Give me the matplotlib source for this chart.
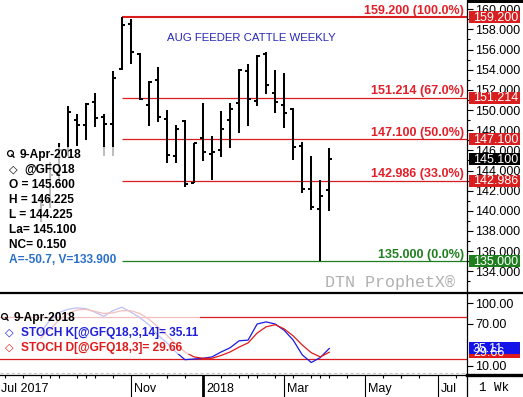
import matplotlib
matplotlib.use("Agg")
import matplotlib.pyplot as plt
import matplotlib.dates as mdates
import matplotlib.transforms as mtransforms
from matplotlib.patches import Rectangle
import pandas as pd
import numpy as np

plt.rcParams['font.family'] = ['Liberation Sans', 'DejaVu Sans']

# ---------------- data ----------------
weeks = pd.date_range("2017-08-28", periods=33, freq="7D")
opens = [140.1, 141.1, 143.6, 146.0, 149.0, 148.5, 150.8, 149.3, 148.6, 154.1, 158.5,
         155.6, 150.5, 153.0, 149.1, 145.4, 148.9, 142.8, 147.2, 145.6, 146.0, 149.0,
         150.7, 153.9, 150.9, 155.6, 151.7, 150.5, 150.1, 146.4, 142.2, 140.2, 142.1]
highs = [141.6, 144.8, 146.7, 150.4, 149.6, 150.7, 151.7, 149.6, 153.9, 159.2, 159.0,
         155.7, 152.85, 154.3, 150.0, 148.5, 149.0, 146.7, 150.7, 147.4, 149.9, 150.7,
         154.1, 154.6, 155.5, 155.8, 154.0, 153.7, 150.2, 146.8, 145.4, 143.1, 146.225]
lows = [138.9, 140.3, 142.9, 145.4, 146.4, 147.0, 148.3, 145.4, 145.4, 154.0, 154.6,
        151.0, 148.4, 148.8, 144.7, 144.7, 142.4, 142.8, 144.9, 143.1, 145.3, 146.2,
        147.7, 148.4, 150.4, 151.6, 149.7, 148.2, 145.0, 141.8, 140.1, 135.0, 140.0]
closes = [140.6, 143.6, 146.0, 149.8, 148.5, 150.6, 149.2, 148.6, 153.2, 158.4, 155.8,
          151.1, 152.8, 149.3, 145.5, 148.1, 142.7, 146.7, 145.8, 145.8, 148.1, 150.1,
          154.0, 151.1, 155.4, 152.5, 150.8, 149.7, 146.3, 142.2, 140.4, 141.5, 145.1]

stoch_k = [58, 75, 86, 91, 93, 92, 87, 81, 89, 94, 87, 79, 69, 54, 43, 30, 19, 20, 21,
           23, 30, 36, 46, 47, 70, 73, 70, 61, 47, 26, 15, 22, 35.11]
stoch_d = [50, 62, 75, 85, 90, 91, 88, 85, 86, 89, 89, 85, 77, 66, 54, 41, 30, 23, 21,
           21, 25, 30, 37, 43, 57, 66, 69, 63, 53, 40, 29, 23, 29.66]

fib_levels = [159.2, 151.214, 147.1, 142.986, 135.0]
fib_pcts = ["100.0%", "67.0%", "50.0%", "33.0%", "0.0%"]
swing_date = pd.Timestamp("2017-10-30")
last_price = 145.1

price_ticks = list(range(134, 161, 2))
stoch_ticks = [10, 70, 100]
stoch_levels = [80, 20]

month_labels = ["Nov", "2018", "Mar", "May", "Jul"]
month_label_dates = pd.to_datetime(["2017-11-06", "2018-01-01", "2018-03-05",
                                    "2018-05-07", "2018-07-02"])
minor_month_dates = pd.to_datetime(["2017-09-04", "2017-10-02", "2017-12-04",
                                    "2018-02-05", "2018-04-02", "2018-06-04"])

# ---------------- figure ----------------
W, H = 523, 397
fig = plt.figure(figsize=(W / 100, H / 100), dpi=100)
fig.patch.set_facecolor('white')

ax1 = fig.add_axes([0, (H - 292) / H, 467 / W, 292 / H])
ax2 = fig.add_axes([0, (H - 375) / H, 467 / W, (375 - 294) / H])
axo = fig.add_axes([0, 0, 1, 1], zorder=10)
axo.set_xlim(0, W)
axo.set_ylim(H, 0)
axo.axis('off')
axo.patch.set_alpha(0)

jan1 = mdates.date2num(pd.Timestamp("2018-01-01"))
px_per_day = 9.02 / 7
xlim = (jan1 - 203 / px_per_day, jan1 + 264 / px_per_day)

red = '#d81e1e'
red_txt = '#e3202a'
green = '#1f7f1f'

# ---- price panel ----
xd = mdates.date2num(weeks)
tick_w = 2.4
ax1.vlines(xd, lows, highs, color='black', lw=1.45, zorder=3)
ax1.hlines(opens, xd - tick_w, xd, color='black', lw=1.45, zorder=3)
ax1.hlines(closes, xd, xd + tick_w, color='black', lw=1.45, zorder=3)

sx = mdates.date2num(swing_date)
for i, (lvl, pct) in enumerate(zip(fib_levels, fib_pcts)):
    col = green if i == len(fib_levels) - 1 else red
    lw = 1.5 if i == 0 else 0.9
    ax1.hlines(lvl, sx, xlim[1], color=col, lw=lw, zorder=2)
    tcol = green if i == len(fib_levels) - 1 else red_txt
    ax1.annotate(f"{lvl:.3f} ({pct})", xy=(1, lvl),
                 xycoords=mtransforms.blended_transform_factory(ax1.transAxes, ax1.transData),
                 xytext=(-3, 3.5), textcoords='offset pixels', ha='right', va='baseline',
                 fontsize=9, fontweight='bold', color=tcol, zorder=4)

ax1.set_xlim(*xlim)
ax1.set_ylim(159.2 - (292 - 17.3) / 10.08, 159.2 + 17.3 / 10.08)
ax1.yaxis.tick_right()
ax1.set_yticks(price_ticks)
ax1.set_yticks(range(133, 161), minor=True)
ax1.yaxis.set_major_formatter(matplotlib.ticker.FormatStrFormatter('%.3f'))
ax1.tick_params(axis='y', which='major', direction='out', length=4, width=0.8,
                labelsize=9, pad=2)
ax1.tick_params(axis='y', which='minor', direction='out', length=2, width=0.8)
ax1.set_xticks([])
for s in ['top', 'left', 'bottom']:
    ax1.spines[s].set_visible(False)
ax1.spines['right'].set_linewidth(0.9)

# ---- stochastic panel ----
ax2.plot(weeks, stoch_k, color='#1a1ae0', lw=0.9, zorder=3)
ax2.plot(weeks, stoch_d, color='#e01a1a', lw=0.9, zorder=3)
for lv in stoch_levels:
    ax2.axhline(lv, color=red, lw=0.9, zorder=2)
ax2.axhline(0, color='#c8c8c8', lw=0.8, ls=(0, (3, 2)), zorder=1)
ax2.set_xlim(*xlim)
ax2.set_ylim(80 - 58 / 0.7, 80 + 23 / 0.7)
ax2.yaxis.tick_right()
ax2.set_yticks(stoch_ticks)
ax2.yaxis.set_major_formatter(matplotlib.ticker.FormatStrFormatter('%.2f'))
ax2.tick_params(axis='y', direction='out', length=4, width=0.8, labelsize=9, pad=2)
for s in ['top', 'left']:
    ax2.spines[s].set_visible(False)
ax2.spines['right'].set_linewidth(0.9)
ax2.spines['bottom'].set_linewidth(0.9)

ax2.set_xticks(mdates.date2num(month_label_dates))
ax2.set_xticklabels([''] * len(month_labels))
biweekly = pd.date_range("2017-07-31", "2018-07-23", freq="14D")
ax2.set_xticks(mdates.date2num(list(biweekly) + list(minor_month_dates)), minor=True)
ax2.tick_params(axis='x', which='major', direction='out', length=16, width=0.8)
ax2.tick_params(axis='x', which='minor', direction='out', length=2.5, width=0.8)
for t, lab in zip(ax2.xaxis.get_major_ticks(), month_labels):
    if lab == "2018":
        t.tick1line.set_markeredgewidth(2)

lab_tr = mtransforms.offset_copy(
    mtransforms.blended_transform_factory(ax2.transData, axo.transData),
    fig=fig, x=3, y=0, units='dots')
for d, lab in zip(month_label_dates, month_labels):
    ax2.text(mdates.date2num(d), 389, lab, transform=lab_tr, ha='left', va='center',
             fontsize=9, clip_on=False)

# ---------------- overlay ----------------
def ypix(ax, v):
    return H - ax.transData.transform((0, v))[1]

# fading boxes behind legends
axo.add_patch(Rectangle((0, 147), 120, 121, fc='white', ec='none', alpha=0.75, zorder=1))
axo.add_patch(Rectangle((0, 297), 200, 57, fc='white', ec='none', alpha=0.72, zorder=1))

# separators
axo.plot([0, W], [293, 293], color='black', lw=1.6, zorder=2)
axo.plot([467, W], [374.5, 374.5], color='black', lw=2.4, zorder=2)
axo.plot([467, 467], [374, H], color='black', lw=0.9, zorder=2)
axo.add_patch(Rectangle((467, 0), 56, 2.5, fc='black', ec='none', zorder=2))

# right value boxes
box_cols = [red, red, red, red, green]
for lvl, c in zip(fib_levels, box_cols):
    yc = ypix(ax1, lvl)
    axo.add_patch(Rectangle((469, yc - 6), 51, 12, fc=c, ec='none', zorder=4))
    axo.text(473, yc + 0.3, f"{lvl:.3f}", color='white', fontsize=9, ha='left',
             va='center', zorder=5)
yc = ypix(ax1, last_price)
axo.add_patch(Rectangle((469, yc - 6), 51, 12, fc='black', ec='none', zorder=4))
axo.text(473, yc + 0.3, f"{last_price:.3f}", color='white', fontsize=9, ha='left',
         va='center', zorder=5)

for v, c in [(stoch_d[-1], '#e01a1a'), (stoch_k[-1], '#1414e8')]:
    yc = ypix(ax2, v)
    axo.add_patch(Rectangle((469, yc - 6), 51, 12, fc=c, ec='none', zorder=4))
    axo.text(473, yc + 0.3, f"{v:.2f}", color='white', fontsize=9, ha='left',
             va='center', zorder=5)

# title & watermark
axo.text(167, 38, "AUG FEEDER CATTLE WEEKLY", color='#2828b8', fontsize=8.2,
         ha='left', va='center', zorder=5)
axo.text(455, 282, "DTN ProphetX®", family='Liberation Mono', color='#b0b0b0',
         fontsize=12, ha='right', va='center', zorder=5)
axo.text(494, 388, "1 Wk", family='Liberation Mono', fontsize=9, ha='center',
         va='center', zorder=5)
axo.text(1, 389, "Jul 2017", fontsize=9, ha='left', va='center', zorder=5)


def magnifier(x, y):
    axo.plot([x], [y], marker='o', ms=4.2, mfc='none', mec='black', mew=0.9, zorder=5)
    axo.plot([x + 1.8, x + 4], [y + 1.8, y + 4.2], color='black', lw=1.0, zorder=5)


# price legend
magnifier(10, 153)
bold = dict(fontsize=8.6, fontweight='bold', ha='left', va='center', zorder=5)
axo.text(20, 155, "9-Apr-2018", color='black', **bold)
axo.text(9, 170, "◇", color='black', family=['DejaVu Sans'], fontsize=8,
         fontweight='bold', ha='left', va='center', zorder=5)
axo.text(24, 170, "@GFQ18", color='black', **bold)
legend_lines = ["O = 145.600", "H = 146.225", "L = 144.225", "La= 145.100", "NC= 0.150"]
for i, t in enumerate(legend_lines):
    axo.text(9, 185 + 15 * i, t, color='black', **bold)
axo.text(9, 260, "A=-50.7, V=133.900", color='#2a6fc9', **bold)

# stoch legend
magnifier(4, 316)
axo.text(14, 318, "9-Apr-2018", color='black', **bold)
axo.text(5, 333, "◇", color='#1a1ae0', family=['DejaVu Sans'], fontsize=8,
         fontweight='bold', ha='left', va='center', zorder=5)
axo.text(21, 333, f"STOCH K[@GFQ18,3,14]= {stoch_k[-1]:.2f}", color='#2020d8', **bold)
axo.text(5, 348, "◇", color='#e01a1a', family=['DejaVu Sans'], fontsize=8,
         fontweight='bold', ha='left', va='center', zorder=5)
axo.text(21, 348, f"STOCH D[@GFQ18,3]= {stoch_d[-1]:.2f}", color='#e01a1a', **bold)

fig.savefig("out.png", dpi=100)
